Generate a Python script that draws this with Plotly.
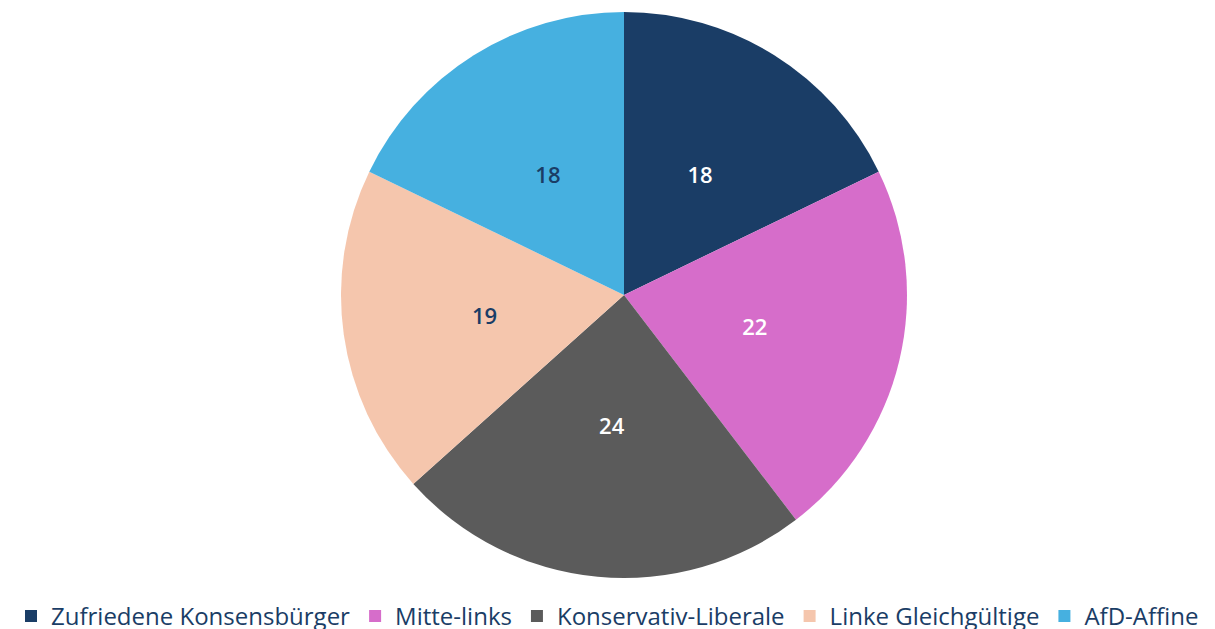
import plotly.graph_objects as go

labels = ["Zufriedene Konsensbürger", "Mitte-links", "Konservativ-Liberale", "Linke Gleichgültige", "AfD-Affine"]
values = [18, 22, 24, 19, 18]
colors = ["#1a3d66", "#d66dca", "#5b5b5b", "#f5c6ad", "#46b0e0"]
text_colors = ["#ffffff", "#ffffff", "#ffffff", "#1a3d66", "#1a3d66"]

W, H = 1215, 629
x0 = 33 / W  # left edge of pie domain (pie slightly right of centre)

fig = go.Figure()

# Coloured pie (legend + slices)
fig.add_trace(go.Pie(
    labels=labels,
    values=values,
    sort=False,
    direction="clockwise",
    rotation=0,
    marker=dict(colors=colors, line=dict(width=0)),
    textinfo="none",
    hoverinfo="label+value",
    domain=dict(x=[x0, 1], y=[0, 1]),
))

# Transparent pie only carrying the value labels, closer to centre
fig.add_trace(go.Pie(
    labels=labels,
    values=values,
    sort=False,
    direction="clockwise",
    rotation=0,
    marker=dict(colors=["rgba(0,0,0,0)"] * len(values), line=dict(width=0)),
    textinfo="value",
    textposition="inside",
    insidetextorientation="horizontal",
    insidetextfont=dict(family="Open Sans", size=22, color=text_colors, weight=600),
    hoverinfo="skip",
    showlegend=False,
    domain=dict(x=[x0, 1], y=[0.1125, 0.8875]),
))

fig.update_layout(
    width=W,
    height=H,
    paper_bgcolor="white",
    plot_bgcolor="white",
    margin=dict(l=0, r=0, t=12, b=51, autoexpand=False),
    font=dict(family="Open Sans", color="#1a3d66"),
    legend=dict(
        orientation="h",
        x=0.5, xanchor="center",
        y=-0.028, yanchor="top",
        font=dict(family="Open Sans", size=24, color="#1a3d66"),
        itemwidth=30,
        tracegroupgap=0,
    ),
    showlegend=True,
)

fig.write_html("out.html", config={"displayModeBar": False},
               post_script="document.body.style.margin='0';")
